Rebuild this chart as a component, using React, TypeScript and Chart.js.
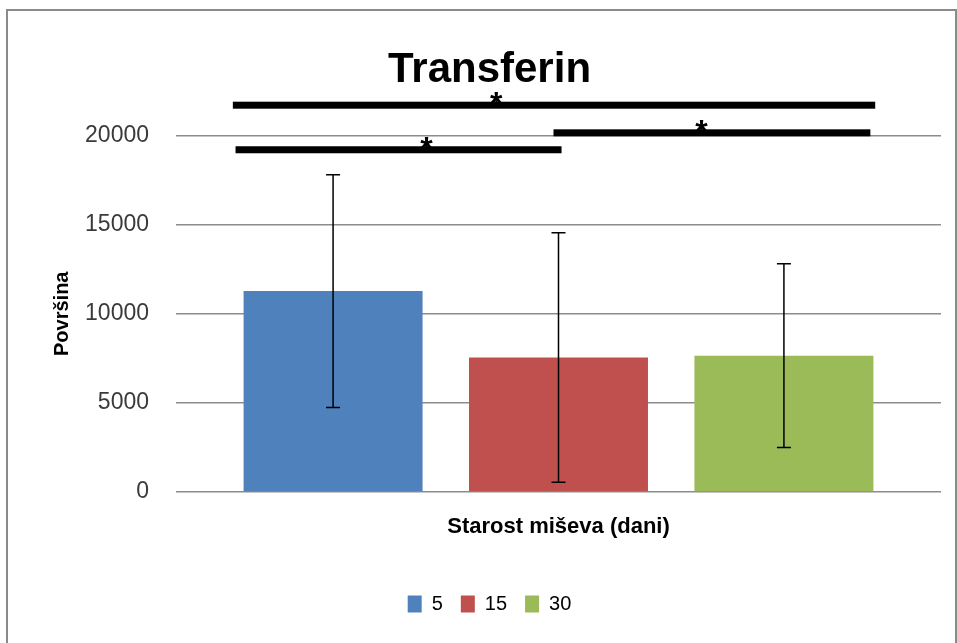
import React, { useEffect, useRef } from "react";
import { Chart, registerables } from "chart.js";

Chart.register(...registerables);

// ---- data ----
const categories = [""];
const seriesLabels = ["5", "15", "30"];
const means = [11270, 7550, 7650];
const errors = [6530, 7000, 5150];
const colors = ["#4F81BD", "#C0504D", "#9BBB59"];
const yMin = 0;
const yMax = 20000;
const yStep = 5000;

// significance brackets: from bar / to bar, offsets in bar widths, level in data units
const sigFromBar = [0, 0, 1];
const sigToBar = [2, 1, 2];
const sigFromOff = [-0.56, -0.545, -0.028];
const sigToOff = [0.51, 0.017, 0.483];
const sigLevels = [21700, 19200, 20150];
const sigStarPos = [0.41, 0.586, 0.467];
const sigLabels = ["*", "*", "*"];

const FONT = "'Liberation Sans', Arial, sans-serif";

const errorBarPlugin = {
  id: "errorBars",
  afterDatasetsDraw(chart: any) {
    const ctx = chart.ctx;
    const y = chart.scales.y;
    ctx.save();
    ctx.strokeStyle = "#000";
    ctx.lineWidth = 1.5;
    chart.data.datasets.forEach((_ds: any, i: number) => {
      const el = chart.getDatasetMeta(i).data[0];
      if (!el) return;
      const x = el.x;
      const top = y.getPixelForValue(means[i] + errors[i]);
      const bot = y.getPixelForValue(means[i] - errors[i]);
      ctx.beginPath();
      ctx.moveTo(x, top);
      ctx.lineTo(x, bot);
      ctx.moveTo(x - 7, top);
      ctx.lineTo(x + 7, top);
      ctx.moveTo(x - 7, bot);
      ctx.lineTo(x + 7, bot);
      ctx.stroke();
    });
    ctx.restore();
  },
};

const sigPlugin = {
  id: "significance",
  afterDraw(chart: any) {
    const ctx = chart.ctx;
    const y = chart.scales.y;
    ctx.save();
    sigLevels.forEach((lvl, k) => {
      const a = chart.getDatasetMeta(sigFromBar[k]).data[0];
      const b = chart.getDatasetMeta(sigToBar[k]).data[0];
      if (!a || !b) return;
      const x1 = a.x + sigFromOff[k] * a.width;
      const x2 = b.x + sigToOff[k] * b.width;
      const py = y.getPixelForValue(lvl);
      ctx.fillStyle = "#000";
      ctx.fillRect(x1, py - 3.5, x2 - x1, 7);
      const sx = x1 + (x2 - x1) * sigStarPos[k];
      ctx.strokeStyle = "#000";
      ctx.lineWidth = 1.5;
      ctx.beginPath();
      ctx.moveTo(sx, py - 12);
      ctx.lineTo(sx, py);
      ctx.stroke();
      ctx.font = `bold 32px ${FONT}`;
      ctx.textAlign = "center";
      ctx.textBaseline = "alphabetic";
      ctx.fillText(sigLabels[k], sx, py + 9);
    });
    ctx.restore();
  },
};

export default function App() {
  const ref = useRef<HTMLCanvasElement | null>(null);

  useEffect(() => {
    if (!ref.current) return;
    const chart = new Chart(ref.current, {
      type: "bar",
      data: {
        labels: categories,
        datasets: seriesLabels.map((lab, i) => ({
          label: lab,
          data: [means[i]],
          backgroundColor: colors[i],
          borderWidth: 0,
          categoryPercentage: 0.884,
          barPercentage: 0.794,
        })),
      },
      options: {
        responsive: false,
        animation: false,
        layout: { padding: { left: 38, right: 16, top: 0, bottom: 19 } },
        plugins: {
          title: {
            display: true,
            text: "Transferin",
            color: "#000",
            font: { family: FONT, size: 42, weight: "bold" },
            padding: { top: 45, bottom: 40.1 },
          },
          legend: {
            position: "bottom",
            labels: {
              boxWidth: 14,
              boxHeight: 17,
              padding: 18,
              color: "#000",
              font: { family: FONT, size: 20 },
            },
          },
          tooltip: { enabled: false },
        },
        scales: {
          x: {
            grid: { display: false, drawTicks: false },
            border: { display: false },
            ticks: { display: false },
            title: {
              display: true,
              text: "Starost miševa (dani)",
              color: "#000",
              font: { family: FONT, size: 22, weight: "bold" },
              padding: { top: 22, bottom: 35.6 },
            },
          },
          y: {
            min: yMin,
            max: yMax,
            ticks: {
              stepSize: yStep,
              padding: 27,
              color: "#3a3a3a",
              font: { family: FONT, size: 23 },
              callback: (v: any) => String(v),
            },
            grid: { color: "#8c8c8c", lineWidth: 1.5, drawTicks: false },
            border: { display: false },
            title: {
              display: true,
              text: "Površina",
              color: "#000",
              font: { family: FONT, size: 20, weight: "bold" },
              padding: { top: 12, bottom: 0 },
            },
            afterFit(scale: any) {
              scale.width = 138;
            },
          },
        },
      },
      plugins: [errorBarPlugin, sigPlugin],
    } as any);
    return () => chart.destroy();
  }, []);

  return (
    <div style={{ position: "absolute", left: 0, top: 0, width: 957, height: 643, background: "#fff" }}>
      <div
        style={{
          position: "absolute",
          left: 6,
          top: 9,
          width: 951,
          height: 634,
          borderTop: "2px solid #8a8a8a",
          borderLeft: "2px solid #8a8a8a",
          borderRight: "2px solid #8a8a8a",
          boxSizing: "border-box",
        }}
      />
      <canvas ref={ref} width={957} height={643} style={{ position: "absolute", left: 0, top: 0 }} />
    </div>
  );
}
